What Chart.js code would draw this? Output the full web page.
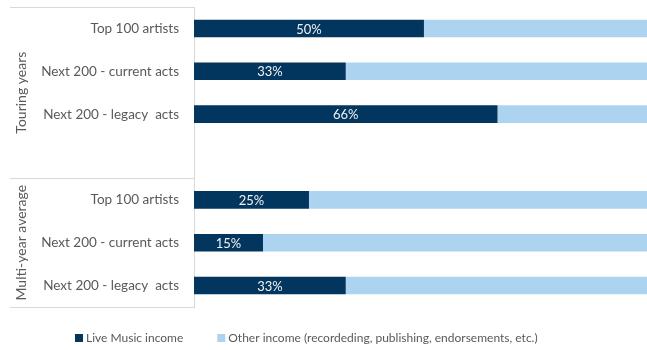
<!DOCTYPE html>
<html>
<head>
<meta charset="utf-8">
<script src="https://cdn.jsdelivr.net/npm/chart.js@4"></script>
<style>
  html, body { margin: 0; padding: 0; background: #fff; overflow: hidden; }
  #wrap { width: 647px; height: 350px; }
</style>
</head>
<body>
<div id="wrap"><canvas id="chart"></canvas></div>
<script>
const categories = [
  "Top 100 artists",
  "Next 200 - current acts",
  "Next 200 - legacy  acts",
  "",
  "Top 100 artists",
  "Next 200 - current acts",
  "Next 200 - legacy  acts",
];
const liveIncome = [50, 33, 66, null, 25, 15, 33];
const otherIncome = [50, 67, 34, null, 75, 85, 67];
const groupLabels = ["Touring years", "Multi-year average"];
const groupRanges = [[0, 3], [4, 6]];

const FONT = "Lato";
const GREY = "#595959";

// group labels, separator lines, bar labels and legend
const extras = {
  id: "extras",
  afterDraw(chart) {
    const { ctx, scales } = chart;
    const y = scales.y;
    const step = y.getPixelForValue(1) - y.getPixelForValue(0);
    ctx.save();

    // separators left of the axis
    ctx.strokeStyle = "#d9d9d9";
    ctx.lineWidth = 1;
    const lines = [y.top, y.getPixelForValue(groupRanges[0][1]) + step / 2, y.bottom];
    lines.forEach((py) => {
      const p = Math.round(py) + 0.5;
      ctx.beginPath();
      ctx.moveTo(10, p);
      ctx.lineTo(y.right, p);
      ctx.stroke();
    });

    // rotated group labels
    ctx.fillStyle = GREY;
    ctx.font = "14px " + FONT;
    ctx.textAlign = "center";
    ctx.textBaseline = "middle";
    groupRanges.forEach((r, i) => {
      const top = y.getPixelForValue(r[0]) - step / 2;
      const bottom = y.getPixelForValue(r[1]) + step / 2;
      ctx.save();
      ctx.translate(21, (top + bottom) / 2);
      ctx.rotate(-Math.PI / 2);
      ctx.fillText(groupLabels[i], 0, 0);
      ctx.restore();
    });

    // value labels in the dark bars
    ctx.fillStyle = "#f2f2f2";
    ctx.font = "13px " + FONT;
    chart.getDatasetMeta(0).data.forEach((bar, i) => {
      if (liveIncome[i] == null) return;
      ctx.fillText(liveIncome[i] + "%", (bar.x + bar.base) / 2, bar.y + 1);
    });

    // legend
    let x = 75;
    const ly = 338;
    ctx.textAlign = "left";
    ctx.font = "12px " + FONT;
    chart.data.datasets.forEach((ds) => {
      ctx.fillStyle = ds.backgroundColor;
      ctx.fillRect(x, ly - 4, 8, 8);
      ctx.fillStyle = GREY;
      ctx.fillText(ds.label, x + 11, ly);
      x += 11 + ctx.measureText(ds.label).width + 34;
    });

    ctx.restore();
  },
};

new Chart(document.getElementById("chart"), {
  type: "bar",
  data: {
    labels: categories,
    datasets: [
      {
        label: "Live Music income",
        data: liveIncome,
        backgroundColor: "#03365f",
        categoryPercentage: 1,
        barPercentage: 0.41,
      },
      {
        label: "Other income (recordeding, publishing, endorsements, etc.)",
        data: otherIncome,
        backgroundColor: "#acd3ef",
        categoryPercentage: 1,
        barPercentage: 0.41,
      },
    ],
  },
  options: {
    indexAxis: "y",
    responsive: true,
    maintainAspectRatio: false,
    animation: false,
    layout: { padding: { top: 7, bottom: 43, left: 0, right: 0 } },
    plugins: {
      legend: { display: false },
      tooltip: { enabled: false },
    },
    scales: {
      x: {
        stacked: true,
        display: false,
        min: 0,
        max: 98.5,
      },
      y: {
        stacked: true,
        grid: { display: false },
        border: { display: true, color: "#d9d9d9" },
        ticks: {
          color: GREY,
          padding: 7,
          font: { family: FONT, size: 13.5 },
        },
        afterFit(scale) {
          scale.width = 194;
          scale.paddingTop = 0;
          scale.paddingBottom = 0;
        },
      },
    },
  },
  plugins: [extras],
});
</script>
</body>
</html>
